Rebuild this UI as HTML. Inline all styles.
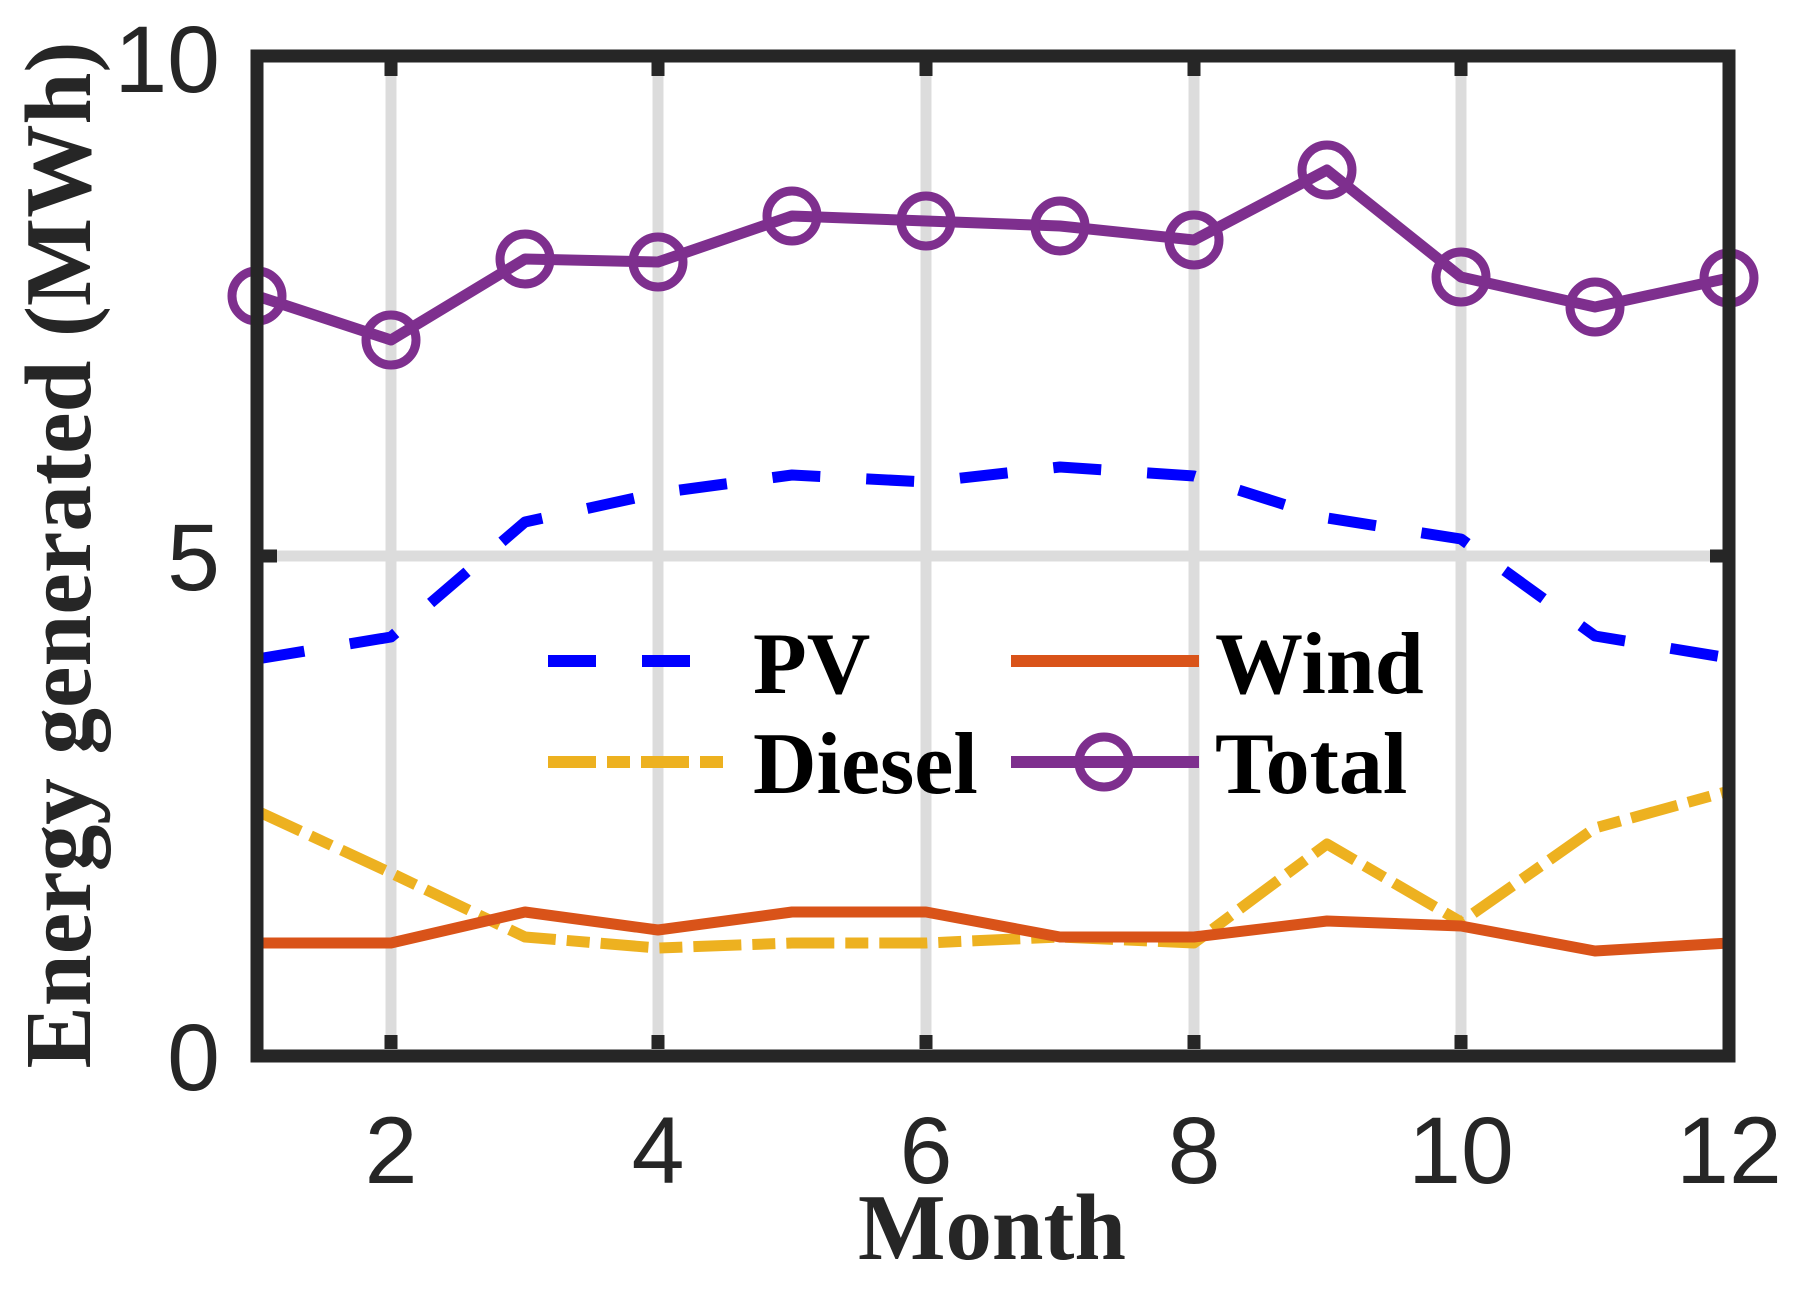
<!DOCTYPE html>
<html><head><meta charset="utf-8"><style>html,body{margin:0;padding:0;background:#fff}svg{display:block}</style></head>
<body>
<svg width="1793" height="1289" viewBox="0 0 1793 1289" xmlns="http://www.w3.org/2000/svg">
<rect width="1793" height="1289" fill="#fff"/>
<g stroke="#dcdcdc" stroke-width="11">
<line x1="391" y1="62" x2="391" y2="1049"/>
<line x1="658" y1="62" x2="658" y2="1049"/>
<line x1="926" y1="62" x2="926" y2="1049"/>
<line x1="1194" y1="62" x2="1194" y2="1049"/>
<line x1="1461" y1="62" x2="1461" y2="1049"/>
<line x1="263" y1="556" x2="1724" y2="556"/>
</g>
<g stroke="#262626" stroke-width="13">
<line x1="391" y1="62" x2="391" y2="76"/><line x1="391" y1="1049" x2="391" y2="1035"/>
<line x1="658" y1="62" x2="658" y2="76"/><line x1="658" y1="1049" x2="658" y2="1035"/>
<line x1="926" y1="62" x2="926" y2="76"/><line x1="926" y1="1049" x2="926" y2="1035"/>
<line x1="1194" y1="62" x2="1194" y2="76"/><line x1="1194" y1="1049" x2="1194" y2="1035"/>
<line x1="1461" y1="62" x2="1461" y2="76"/><line x1="1461" y1="1049" x2="1461" y2="1035"/>
<line x1="263" y1="556" x2="277" y2="556"/><line x1="1724" y1="556" x2="1710" y2="556"/>
</g>
<g fill="none" stroke-width="11" stroke-linejoin="round">
<polyline stroke="#0000ff" stroke-dasharray="48 46" points="257,659 391,637 525,522 658,493 792,475 926,482 1060,467 1194,476 1327,518 1461,539 1595,636 1729,658"/>
<polyline stroke="#edb120" stroke-dasharray="48 11 23 11" points="257,811 391,873 525,937 658,948 792,943 926,943 1060,937 1194,943 1327,844 1461,922 1595,828 1729,791"/>
<polyline stroke="#d95319" points="257,943 391,943 525,912 658,930 792,912 926,912 1060,937 1194,937 1327,921 1461,926 1595,951 1729,943"/>
<polyline stroke="#7e2f8e" points="257,296 391,340 525,259 658,262 792,216 926,221 1060,226 1194,240 1327,170 1461,277 1595,307 1729,278"/>
</g>
<g fill="none" stroke="#7e2f8e" stroke-width="9">
<circle cx="257" cy="296" r="25"/><circle cx="391" cy="340" r="25"/><circle cx="525" cy="259" r="25"/><circle cx="658" cy="262" r="25"/><circle cx="792" cy="216" r="25"/><circle cx="926" cy="221" r="25"/><circle cx="1060" cy="226" r="25"/><circle cx="1194" cy="240" r="25"/><circle cx="1327" cy="170" r="25"/><circle cx="1461" cy="277" r="25"/><circle cx="1595" cy="307" r="25"/><circle cx="1729" cy="278" r="25"/>
</g>
<rect x="257" y="56" width="1472" height="1000" fill="none" stroke="#262626" stroke-width="13"/>
<g fill="none" stroke-width="12">
<line x1="548" y1="661" x2="692" y2="661" stroke="#0000ff" stroke-dasharray="48 46"/>
<line x1="1011" y1="661" x2="1199" y2="661" stroke="#d95319"/>
<line x1="548" y1="762" x2="727" y2="762" stroke="#edb120" stroke-dasharray="48 11 23 11"/>
<line x1="1011" y1="762" x2="1199" y2="762" stroke="#7e2f8e"/>
<circle cx="1104" cy="762" r="25" stroke="#7e2f8e" stroke-width="9"/>
</g>
<g font-family="'Liberation Serif',serif" font-weight="bold" font-size="88" fill="#000">
<text x="753" y="693">PV</text>
<text x="1215" y="693">Wind</text>
<text x="753" y="793">Diesel</text>
<text x="1215" y="793">Total</text>
</g>
<g font-family="'Liberation Sans',sans-serif" font-size="95" fill="#262626">
<text x="220" y="92" text-anchor="end">10</text>
<text x="220" y="590" text-anchor="end">5</text>
<text x="220" y="1090" text-anchor="end">0</text>
<g text-anchor="middle">
<text x="391" y="1183">2</text><text x="658" y="1183">4</text><text x="926" y="1183">6</text><text x="1194" y="1183">8</text><text x="1461" y="1183">10</text><text x="1729" y="1183">12</text>
</g>
</g>
<g font-family="'Liberation Serif',serif" font-weight="bold" font-size="94" fill="#262626">
<text x="992" y="1259" text-anchor="middle" textLength="268" lengthAdjust="spacingAndGlyphs">Month</text>
<text transform="translate(90,555) rotate(-90)" text-anchor="middle" textLength="1027" lengthAdjust="spacingAndGlyphs">Energy generated (MWh)</text>
</g>
</svg>
</body></html>
